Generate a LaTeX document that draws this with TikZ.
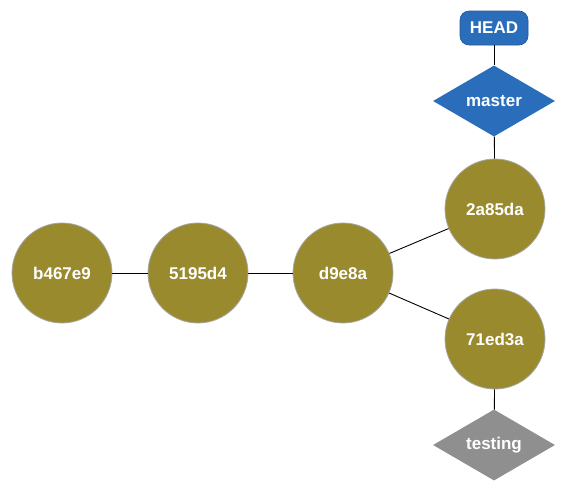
\documentclass[tikz,border=0pt]{standalone}
\usepackage{fontspec}
\setmainfont{Liberation Sans}
\usetikzlibrary{shapes.geometric}
\definecolor{olive}{HTML}{9A8A2E}
\definecolor{gitblue}{HTML}{2A6EBB}
\definecolor{gitgrey}{HTML}{8F8F8F}
\begin{document}
\begin{tikzpicture}[x=1pt,y=-1pt,
  commit/.style={circle,fill=olive,draw=gray!70,line width=0.8pt,minimum size=100pt,inner sep=0pt,
    text=white,font=\fontsize{17}{20}\selectfont\bfseries},
  branch/.style={diamond,aspect=1.72,inner sep=1pt,minimum width=122pt,minimum height=71pt,
    text=white,font=\fontsize{17}{20}\selectfont\bfseries},
  headbox/.style={rounded corners=9pt,fill=gitblue,draw=gitblue!80!black,line width=0.6pt,
    minimum width=68pt,minimum height=34pt,inner sep=0pt,
    text=white,font=\fontsize{17}{20}\selectfont\bfseries},
  conn/.style={draw=black,line width=0.9pt}]
\useasboundingbox (0,0) rectangle (567,493);
\node[commit] (c1) at (62,273) {b467e9};
\node[commit] (c2) at (198,273) {5195d4};
\node[commit] (c3) at (343,273) {d9e8a};
\node[commit] (c4) at (495,209) {2a85da};
\node[commit] (c5) at (495,339) {71ed3a};
\node[branch,fill=gitblue] (master) at (494,101) {master};
\node[branch,fill=gitgrey] (testing) at (494,445) {testing};
\node[headbox] (head) at (494,28) {HEAD};
\draw[conn] (c1) -- (c2);
\draw[conn] (c2) -- (c3);
\draw[conn] (c3) -- (c4);
\draw[conn] (c3) -- (c5);
\draw[conn] (head) -- (master);
\draw[conn] (master) -- (c4);
\draw[conn] (c5) -- (testing);
\end{tikzpicture}
\end{document}
